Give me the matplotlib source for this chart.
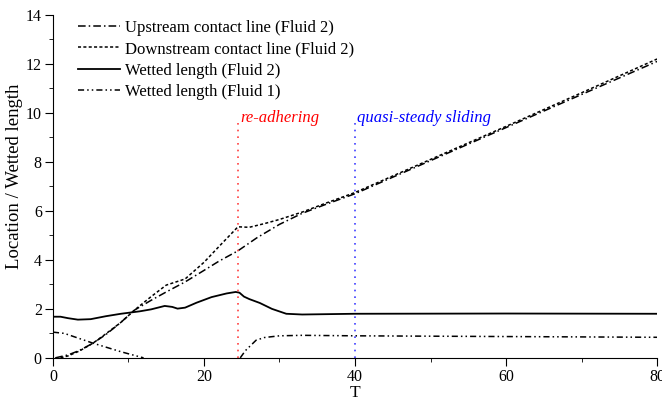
import matplotlib.pyplot as plt
from matplotlib.ticker import MultipleLocator

plt.rcParams['font.family'] = ['Liberation Serif', 'DejaVu Serif']

# upstream contact line (Fluid 2)
t_up = [0.3, 2, 3.5, 5.3, 7, 9, 10.8, 13, 15, 17.5, 20, 22, 24.5, 27, 30, 33, 36, 40, 50, 60, 70, 80]
up = [0, 0.12, 0.3, 0.6, 0.95, 1.45, 1.95, 2.35, 2.69, 3.1, 3.57, 3.95, 4.37, 4.9, 5.45, 5.9, 6.25, 6.7, 8.05, 9.4, 10.75, 12.1]

# downstream contact line (Fluid 2)
t_down = [1.0, 2, 3.5, 5.3, 7, 9, 10.8, 13, 15, 17.5, 20, 22, 24.5, 26, 28, 30, 33, 36, 40, 50, 60, 70, 80]
down = [0, 0.08, 0.28, 0.6, 0.98, 1.45, 1.95, 2.5, 2.97, 3.22, 3.9, 4.55, 5.35, 5.33, 5.48, 5.65, 5.95, 6.3, 6.75, 8.1, 9.45, 10.82, 12.2]

# wetted length (Fluid 2)
t_w2 = [0, 1, 2, 3.3, 5, 7, 9, 11.5, 13, 14.8, 15.8, 16.5, 17.5, 19, 21, 23, 24.2, 24.7, 25.3, 26, 27.4,
        29, 30.9, 33, 40, 60, 80]
w2 = [1.68, 1.68, 1.62, 1.56, 1.58, 1.7, 1.8, 1.9, 1.98, 2.12, 2.08, 2.01, 2.05, 2.25, 2.48, 2.63, 2.69, 2.66,
      2.5, 2.4, 2.24, 2.0, 1.8, 1.77, 1.8, 1.81, 1.8]

# wetted length (Fluid 1), before and after re-adhering
t_w1a = [0, 1.5, 5.3, 9, 12]
w1a = [1.05, 1.0, 0.6, 0.25, 0.0]
t_w1b = [24.8, 25.5, 26.9, 28, 30, 33, 40, 60, 80]
w1b = [0, 0.3, 0.72, 0.83, 0.9, 0.92, 0.9, 0.87, 0.84]

t_readhere = 24.5
t_steady = 40
line_top = 9.8

fig = plt.figure(figsize=(6.62, 4.03), dpi=100)
ax = fig.add_axes([0.080, 0.112, 0.9125, 0.851])

lw = 1.1
ax.plot(t_up, up, color='black', lw=lw, dashes=(5, 2, 1, 2), label='Upstream contact line (Fluid 2)')
ax.plot(t_down, down, color='black', lw=lw, dashes=(2, 1.5), label='Downstream contact line (Fluid 2)')
ax.plot(t_w2, w2, color='black', lw=1.3, label='Wetted length (Fluid 2)')
ax.plot(t_w1a, w1a, color='black', lw=lw, dashes=(4, 2, 1, 2, 1, 2), label='Wetted length (Fluid 1)')
ax.plot(t_w1b, w1b, color='black', lw=lw, dashes=(4, 2, 1, 2, 1, 2))

ax.plot([t_readhere, t_readhere], [0, line_top], color='#ff4040', lw=1.2, ls=(0, (1, 3)))
ax.plot([t_steady, t_steady], [0, line_top], color='#4040ff', lw=1.2, ls=(0, (1, 3)))
ax.text(t_readhere + 0.3, line_top, 're-adhering', color='red', style='italic', fontsize=12, va='center')
ax.text(t_steady + 0.3, line_top, 'quasi-steady sliding', color='blue', style='italic', fontsize=12, va='center')

ax.set_xlim(0, 80)
ax.set_ylim(0, 14)
ax.xaxis.set_major_locator(MultipleLocator(20))
ax.xaxis.set_minor_locator(MultipleLocator(10))
ax.yaxis.set_major_locator(MultipleLocator(2))
ax.yaxis.set_minor_locator(MultipleLocator(1))
ax.tick_params(which='major', direction='out', length=6, labelsize=11.5, pad=2)
ax.tick_params(which='minor', direction='out', length=3)
ax.spines['top'].set_visible(False)
ax.spines['right'].set_visible(False)
ax.set_xlabel('T', fontsize=12.5, labelpad=0)
ax.set_ylabel('Location / Wetted length', fontsize=13.5)
ax.yaxis.set_label_coords(-0.05, 0.53)

ax.legend(loc='upper left', bbox_to_anchor=(0.017, 1.03), frameon=False, fontsize=12,
          handlelength=2.5, handletextpad=0.3, labelspacing=0.33)

fig.savefig('out.png', dpi=100)
